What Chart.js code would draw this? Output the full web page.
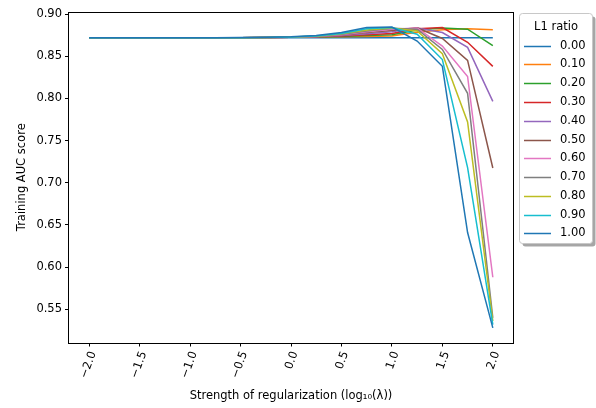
<!DOCTYPE html>
<html lang="en">
<head>
<meta charset="UTF-8">
<title>Training AUC vs strength of regularization</title>
<script src="https://cdn.jsdelivr.net/npm/chart.js"></script>
<style>
  html, body { margin: 0; padding: 0; background: #fff; overflow: hidden; }
  .wrap { position: relative; width: 596px; height: 408px; }
</style>
</head>
<body>
<div class="wrap"><canvas id="aucChart"></canvas></div>
<script>
// x = log10(lambda)
const xValues = [-2.0, -1.75, -1.5, -1.25, -1.0, -0.75, -0.5, -0.25, 0.0, 0.25, 0.5, 0.75, 1.0, 1.25, 1.5, 1.75, 2.0];
const l1Ratios = ['0.00', '0.10', '0.20', '0.30', '0.40', '0.50', '0.60', '0.70', '0.80', '0.90', '1.00'];

// training AUC for each L1 ratio
const auc000 = [0.8718, 0.8718, 0.8718, 0.8718, 0.8718, 0.8718, 0.8719, 0.8720, 0.8720, 0.8720, 0.8720, 0.8720, 0.8720, 0.8720, 0.8720, 0.8720, 0.8720];
const auc010 = [0.8718, 0.8718, 0.8718, 0.8718, 0.8718, 0.8719, 0.8720, 0.8722, 0.8724, 0.8727, 0.8730, 0.8735, 0.8740, 0.8785, 0.8815, 0.8825, 0.8815];
const auc020 = [0.8718, 0.8718, 0.8718, 0.8718, 0.8718, 0.8719, 0.8720, 0.8722, 0.8725, 0.8729, 0.8735, 0.8745, 0.8755, 0.8810, 0.8835, 0.8820, 0.8625];
const auc030 = [0.8718, 0.8718, 0.8718, 0.8718, 0.8718, 0.8719, 0.8720, 0.8722, 0.8725, 0.8730, 0.8740, 0.8755, 0.8770, 0.8825, 0.8840, 0.8665, 0.8380];
const auc040 = [0.8718, 0.8718, 0.8718, 0.8718, 0.8718, 0.8719, 0.8720, 0.8722, 0.8725, 0.8731, 0.8745, 0.8765, 0.8790, 0.8835, 0.8780, 0.8605, 0.7965];
const auc050 = [0.8718, 0.8718, 0.8718, 0.8718, 0.8718, 0.8719, 0.8720, 0.8722, 0.8726, 0.8732, 0.8750, 0.8780, 0.8805, 0.8838, 0.8710, 0.8450, 0.7175];
const auc060 = [0.8718, 0.8718, 0.8718, 0.8718, 0.8718, 0.8719, 0.8720, 0.8723, 0.8726, 0.8734, 0.8755, 0.8790, 0.8820, 0.8835, 0.8620, 0.8260, 0.5880];
const auc070 = [0.8718, 0.8718, 0.8718, 0.8718, 0.8718, 0.8719, 0.8720, 0.8723, 0.8727, 0.8736, 0.8760, 0.8800, 0.8830, 0.8820, 0.8580, 0.8060, 0.5400];
const auc080 = [0.8718, 0.8718, 0.8718, 0.8718, 0.8718, 0.8719, 0.8720, 0.8723, 0.8727, 0.8738, 0.8765, 0.8810, 0.8835, 0.8800, 0.8530, 0.7720, 0.5360];
const auc090 = [0.8718, 0.8718, 0.8718, 0.8718, 0.8718, 0.8719, 0.8720, 0.8723, 0.8728, 0.8740, 0.8770, 0.8825, 0.8840, 0.8760, 0.8460, 0.7180, 0.5320];
const auc100 = [0.8718, 0.8718, 0.8718, 0.8718, 0.8718, 0.8719, 0.8721, 0.8724, 0.8730, 0.8745, 0.8780, 0.8840, 0.8845, 0.8680, 0.8380, 0.6410, 0.5280];

const xTicks = [-2.0, -1.5, -1.0, -0.5, 0.0, 0.5, 1.0, 1.5, 2.0];
const yTicks = [0.55, 0.60, 0.65, 0.70, 0.75, 0.80, 0.85, 0.90];

const series = [auc000, auc010, auc020, auc030, auc040, auc050, auc060, auc070, auc080, auc090, auc100];
const palette = ['#1f77b4', '#ff7f0e', '#2ca02c', '#d62728', '#9467bd', '#8c564b',
                 '#e377c2', '#7f7f7f', '#bcbd22', '#17becf', '#1f77b4'];

Chart.defaults.font.family = '"DejaVu Sans", sans-serif';
Chart.defaults.font.size = 11.5;
Chart.defaults.color = '#000';

const datasets = series.map((vals, i) => ({
    label: l1Ratios[i],
    data: vals.map((v, j) => ({ x: xValues[j], y: v })),
    borderColor: palette[i],
    backgroundColor: palette[i],
    borderWidth: 1.5,
    pointRadius: 0,
    tension: 0,
    fill: false,
    order: series.length - i   // later series on top, like matplotlib
}));

const fmt = v => v.toFixed(1).replace('-', '\u2212');

// four spines around the plot area
const frame = {
    id: 'frame',
    afterDraw(chart) {
        const { ctx, chartArea: a } = chart;
        ctx.save();
        ctx.strokeStyle = '#000';
        ctx.lineWidth = 1;
        ctx.strokeRect(Math.round(a.left) - 0.5, Math.round(a.top) + 0.5,
                       Math.round(a.right - a.left) + 1, Math.round(a.bottom - a.top));
        ctx.restore();
    }
};

function roundRect(ctx, x, y, w, h, r) {
    ctx.beginPath();
    ctx.moveTo(x + r, y);
    ctx.lineTo(x + w - r, y);
    ctx.quadraticCurveTo(x + w, y, x + w, y + r);
    ctx.lineTo(x + w, y + h - r);
    ctx.quadraticCurveTo(x + w, y + h, x + w - r, y + h);
    ctx.lineTo(x + r, y + h);
    ctx.quadraticCurveTo(x, y + h, x, y + h - r);
    ctx.lineTo(x, y + r);
    ctx.quadraticCurveTo(x, y, x + r, y);
    ctx.closePath();
}

// legend box outside on the right, with a drop shadow
const shadowLegend = {
    id: 'shadowLegend',
    afterDraw(chart) {
        const ctx = chart.ctx;
        const x = 519.5, y = 13.5, w = 73, h = 230;
        ctx.save();
        roundRect(ctx, x + 3, y + 3, w, h, 3);
        ctx.fillStyle = 'rgba(0,0,0,0.35)';
        ctx.fill();
        roundRect(ctx, x, y, w, h, 3);
        ctx.fillStyle = '#fff';
        ctx.fill();
        ctx.strokeStyle = '#c8c8c8';
        ctx.lineWidth = 1;
        ctx.stroke();

        ctx.fillStyle = '#000';
        ctx.font = '11.5px "DejaVu Sans"';
        ctx.textBaseline = 'middle';
        ctx.textAlign = 'center';
        ctx.fillText('L1 ratio', x + w / 2, 27);
        ctx.textAlign = 'left';
        chart.data.datasets.forEach((ds, i) => {
            const yy = Math.round(45.7 + i * 18.76) + 0.5;
            ctx.strokeStyle = ds.borderColor;
            ctx.lineWidth = 1.5;
            ctx.beginPath();
            ctx.moveTo(524, yy);
            ctx.lineTo(551, yy);
            ctx.stroke();
            ctx.fillText(ds.label, 560, yy);
        });
        ctx.restore();
    }
};

new Chart(document.getElementById('aucChart'), {
    type: 'line',
    data: { datasets },
    options: {
        responsive: true,
        maintainAspectRatio: false,
        animation: false,
        layout: { padding: { left: 12, top: 12, right: 83, bottom: 0 } },
        plugins: {
            legend: { display: false },
            tooltip: { enabled: false }
        },
        scales: {
            x: {
                type: 'linear',
                min: -2.2,
                max: 2.2,
                afterBuildTicks: s => { s.ticks = xTicks.map(v => ({ value: v })); },
                afterFit: s => { s.height = 65.5; },
                grid: { drawOnChartArea: false, tickLength: 4, tickColor: '#000' },
                border: { display: false },
                ticks: {
                    minRotation: 70,
                    maxRotation: 70,
                    padding: 3,
                    labelOffset: 4,
                    callback: v => fmt(v)
                },
                title: {
                    display: true,
                    text: 'Strength of regularization (log\u2081\u2080(\u03bb))',
                    padding: { top: 2, bottom: 5 }
                }
            },
            y: {
                min: 0.5107,
                max: 0.9024,
                afterBuildTicks: s => { s.ticks = yTicks.map(v => ({ value: v })); },
                afterFit: s => { s.width = 57; },
                grid: { drawOnChartArea: false, tickLength: 4, tickColor: '#000' },
                border: { display: false },
                ticks: { padding: 3, callback: v => v.toFixed(2) },
                title: {
                    display: true,
                    text: 'Training AUC score',
                    padding: { top: 3, bottom: 4 }
                }
            }
        }
    },
    plugins: [frame, shadowLegend]
});
</script>
</body>
</html>
